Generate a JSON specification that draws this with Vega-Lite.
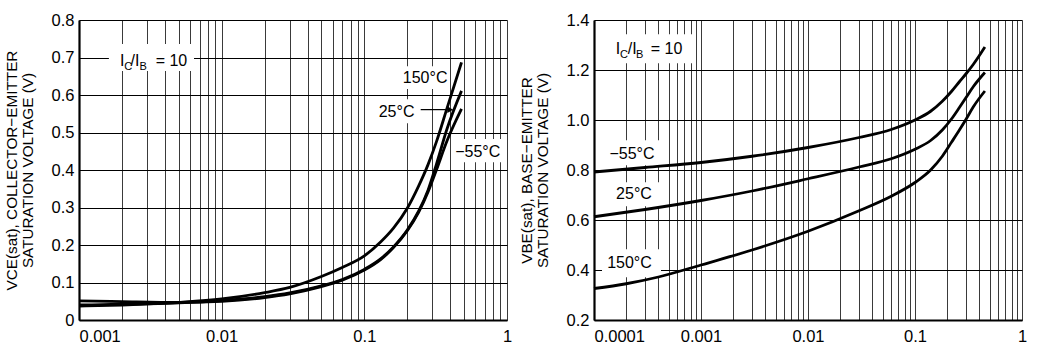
{
  "$schema": "https://vega.github.io/schema/vega-lite/v6.json",
  "padding": {"left": 4, "top": 12, "right": 0, "bottom": 0},
  "spacing": 7,
  "config": {
    "view": {"stroke": null},
    "font": "Liberation Sans",
    "axis": {
      "labelFont": "Liberation Sans",
      "titleFont": "Liberation Sans",
      "labelColor": "#000",
      "titleColor": "#000",
      "labelFontSize": 16.5,
      "titleFontSize": 15.3,
      "titleFontWeight": "normal",
      "ticks": false,
      "tickSize": 0,
      "domainColor": "#000",
      "domainWidth": 2.2,
      "gridOpacity": 1,
      "gridWidth": 1,
      "labelOverlap": false,
      "labelBound": false
    }
  },
  "datasets": {
    "curvesL": [
      {"T": "150", "I": 0.001, "V": 0.037}, {"T": "150", "I": 0.002, "V": 0.040}, {"T": "150", "I": 0.005, "V": 0.047},
      {"T": "150", "I": 0.01, "V": 0.056}, {"T": "150", "I": 0.02, "V": 0.073}, {"T": "150", "I": 0.03, "V": 0.087},
      {"T": "150", "I": 0.05, "V": 0.116}, {"T": "150", "I": 0.07, "V": 0.14}, {"T": "150", "I": 0.1, "V": 0.171},
      {"T": "150", "I": 0.13, "V": 0.208}, {"T": "150", "I": 0.16, "V": 0.245}, {"T": "150", "I": 0.2, "V": 0.298},
      {"T": "150", "I": 0.24, "V": 0.357}, {"T": "150", "I": 0.28, "V": 0.415}, {"T": "150", "I": 0.32, "V": 0.475},
      {"T": "150", "I": 0.38, "V": 0.565}, {"T": "150", "I": 0.48, "V": 0.687},
      {"T": "25", "I": 0.001, "V": 0.040}, {"T": "25", "I": 0.002, "V": 0.042}, {"T": "25", "I": 0.005, "V": 0.046},
      {"T": "25", "I": 0.01, "V": 0.052}, {"T": "25", "I": 0.02, "V": 0.062}, {"T": "25", "I": 0.03, "V": 0.072},
      {"T": "25", "I": 0.05, "V": 0.091}, {"T": "25", "I": 0.07, "V": 0.108}, {"T": "25", "I": 0.1, "V": 0.135},
      {"T": "25", "I": 0.13, "V": 0.163}, {"T": "25", "I": 0.16, "V": 0.195}, {"T": "25", "I": 0.2, "V": 0.24},
      {"T": "25", "I": 0.24, "V": 0.29}, {"T": "25", "I": 0.28, "V": 0.347}, {"T": "25", "I": 0.32, "V": 0.415},
      {"T": "25", "I": 0.38, "V": 0.51}, {"T": "25", "I": 0.48, "V": 0.611},
      {"T": "-55", "I": 0.001, "V": 0.051}, {"T": "-55", "I": 0.002, "V": 0.049}, {"T": "-55", "I": 0.005, "V": 0.047},
      {"T": "-55", "I": 0.01, "V": 0.050}, {"T": "-55", "I": 0.02, "V": 0.060}, {"T": "-55", "I": 0.03, "V": 0.070},
      {"T": "-55", "I": 0.05, "V": 0.089}, {"T": "-55", "I": 0.07, "V": 0.106}, {"T": "-55", "I": 0.1, "V": 0.133},
      {"T": "-55", "I": 0.13, "V": 0.161}, {"T": "-55", "I": 0.16, "V": 0.193}, {"T": "-55", "I": 0.2, "V": 0.238},
      {"T": "-55", "I": 0.24, "V": 0.287}, {"T": "-55", "I": 0.28, "V": 0.342}, {"T": "-55", "I": 0.32, "V": 0.40},
      {"T": "-55", "I": 0.38, "V": 0.478}, {"T": "-55", "I": 0.48, "V": 0.563}
    ],
    "curvesR": [
      {"T": "-55", "I": 0.0001, "V": 0.792}, {"T": "-55", "I": 0.0003, "V": 0.810}, {"T": "-55", "I": 0.001, "V": 0.830},
      {"T": "-55", "I": 0.003, "V": 0.855}, {"T": "-55", "I": 0.01, "V": 0.890}, {"T": "-55", "I": 0.03, "V": 0.930},
      {"T": "-55", "I": 0.06, "V": 0.962}, {"T": "-55", "I": 0.1, "V": 1.0}, {"T": "-55", "I": 0.14, "V": 1.035},
      {"T": "-55", "I": 0.18, "V": 1.075}, {"T": "-55", "I": 0.22, "V": 1.115}, {"T": "-55", "I": 0.26, "V": 1.153},
      {"T": "-55", "I": 0.3, "V": 1.185}, {"T": "-55", "I": 0.35, "V": 1.222}, {"T": "-55", "I": 0.45, "V": 1.292},
      {"T": "25", "I": 0.0001, "V": 0.613}, {"T": "25", "I": 0.0003, "V": 0.642}, {"T": "25", "I": 0.001, "V": 0.678},
      {"T": "25", "I": 0.003, "V": 0.716}, {"T": "25", "I": 0.01, "V": 0.765}, {"T": "25", "I": 0.03, "V": 0.812},
      {"T": "25", "I": 0.06, "V": 0.845}, {"T": "25", "I": 0.1, "V": 0.883}, {"T": "25", "I": 0.14, "V": 0.918},
      {"T": "25", "I": 0.18, "V": 0.96}, {"T": "25", "I": 0.22, "V": 1.005}, {"T": "25", "I": 0.26, "V": 1.05},
      {"T": "25", "I": 0.3, "V": 1.09}, {"T": "25", "I": 0.35, "V": 1.133}, {"T": "25", "I": 0.45, "V": 1.19},
      {"T": "150", "I": 0.0001, "V": 0.326}, {"T": "150", "I": 0.0002, "V": 0.345}, {"T": "150", "I": 0.0004, "V": 0.372},
      {"T": "150", "I": 0.001, "V": 0.42}, {"T": "150", "I": 0.003, "V": 0.48}, {"T": "150", "I": 0.01, "V": 0.555},
      {"T": "150", "I": 0.03, "V": 0.637}, {"T": "150", "I": 0.06, "V": 0.695}, {"T": "150", "I": 0.1, "V": 0.75},
      {"T": "150", "I": 0.14, "V": 0.8}, {"T": "150", "I": 0.18, "V": 0.855}, {"T": "150", "I": 0.22, "V": 0.912},
      {"T": "150", "I": 0.26, "V": 0.96}, {"T": "150", "I": 0.3, "V": 1.003}, {"T": "150", "I": 0.35, "V": 1.052},
      {"T": "150", "I": 0.45, "V": 1.116}
    ],
    "boxesL": [
      {"I": 0.00162, "I2": 0.0064, "V": 0.736, "V2": 0.664},
      {"I": 0.1748, "I2": 0.3916, "V": 0.677, "V2": 0.616},
      {"I": 0.1112, "I2": 0.2415, "V": 0.589, "V2": 0.525},
      {"I": 0.411, "I2": 0.966, "V": 0.483, "V2": 0.421}
    ],
    "boxesR": [
      {"I": 0.0001442, "I2": 0.00086, "V": 1.343, "V2": 1.227},
      {"I": 0.000124, "I2": 0.000451, "V": 0.919, "V2": 0.819},
      {"I": 0.000138, "I2": 0.000423, "V": 0.751, "V2": 0.655},
      {"I": 0.0001188, "I2": 0.000423, "V": 0.483, "V2": 0.371}
    ],
    "labelsL": [
      {"I": 0.2667, "V": 0.645, "label": "150°C"},
      {"I": 0.1683, "V": 0.556, "label": "25°C"},
      {"I": 0.6237, "V": 0.449, "label": "−55°C"}
    ],
    "labelsR": [
      {"I": 0.0002265, "V": 0.863, "label": "−55°C"},
      {"I": 0.0002365, "V": 0.703, "label": "25°C"},
      {"I": 0.0002147, "V": 0.427, "label": "150°C"}
    ],
    "mainL": [
      {"I": 0.001938, "V": 0.678, "text": "I"},
      {"I": 0.002296, "V": 0.678, "text": "/I"},
      {"I": 0.003446, "V": 0.678, "text": "= 10"}
    ],
    "subL": [
      {"I": 0.002077, "V": 0.668, "text": "C"},
      {"I": 0.002650, "V": 0.668, "text": "B"}
    ],
    "mainR": [
      {"I": 0.0001595, "V": 1.263, "text": "I"},
      {"I": 0.0002065, "V": 1.263, "text": "/I"},
      {"I": 0.0003389, "V": 1.263, "text": "= 10"}
    ],
    "subR": [
      {"I": 0.0001750, "V": 1.2496, "text": "C"},
      {"I": 0.0002470, "V": 1.2496, "text": "B"}
    ],
    "arrowL": [
      {"I": 0.2483, "I2": 0.4, "V": 0.561}
    ]
  },
  "hconcat": [
    {
      "width": 428,
      "height": 300,
      "encoding": {
        "x": {
          "field": "I", "type": "quantitative",
          "scale": {"type": "log", "domain": [0.001, 1], "nice": false},
          "axis": {
            "title": null,
            "values": [0.001, 0.002, 0.003, 0.004, 0.005, 0.006, 0.007, 0.008, 0.009,
                       0.01, 0.02, 0.03, 0.04, 0.05, 0.06, 0.07, 0.08, 0.09,
                       0.1, 0.2, 0.3, 0.4, 0.5, 0.6, 0.7, 0.8, 0.9, 1],
            "labelExpr": "datum.value == 0.001 ? '0.001' : datum.value == 0.01 ? '0.01' : datum.value == 0.1 ? '0.1' : datum.value == 1 ? '1' : ''",
            "labelAlign": {"condition": {"test": "datum.value <= 0.001", "value": "left"}, "value": "center"},
            "labelPadding": 8,
            "grid": true,
            "gridColor": "#3a3a3a"
          }
        },
        "y": {
          "field": "V", "type": "quantitative",
          "scale": {"domain": [0, 0.8], "nice": false, "zero": false},
          "axis": {
            "title": ["VCE(sat), COLLECTOR−EMITTER", "SATURATION VOLTAGE (V)"],
            "titleLineHeight": 16,
            "titlePadding": 16,
            "values": [0, 0.1, 0.2, 0.3, 0.4, 0.5, 0.6, 0.7, 0.8],
            "format": "~g",
            "labelPadding": 5,
            "grid": true,
            "gridColor": "#000"
          }
        }
      },
      "layer": [
        {
          "data": {"name": "boxesL"},
          "mark": {"type": "rect", "fill": "white", "stroke": null},
          "encoding": {"x2": {"field": "I2"}, "y2": {"field": "V2"}}
        },
        {
          "data": {"name": "curvesL"},
          "mark": {"type": "line", "color": "black", "strokeWidth": 2.8, "interpolate": "monotone"},
          "encoding": {"detail": {"field": "T", "type": "nominal"}}
        },
        {
          "data": {"name": "arrowL"},
          "mark": {"type": "rule", "color": "black", "strokeWidth": 1.2},
          "encoding": {"x2": {"field": "I2"}}
        },
        {
          "data": {"name": "arrowL"},
          "mark": {"type": "point", "shape": "triangle-right", "filled": true, "color": "black", "size": 45, "opacity": 1},
          "encoding": {"x": {"field": "I2", "type": "quantitative"}}
        },
        {
          "data": {"name": "labelsL"},
          "mark": {"type": "text", "align": "center", "baseline": "middle", "fontSize": 16, "color": "black"},
          "encoding": {"text": {"field": "label"}}
        },
        {
          "data": {"name": "mainL"},
          "mark": {"type": "text", "align": "left", "baseline": "alphabetic", "fontSize": 16, "color": "black"},
          "encoding": {"text": {"field": "text"}}
        },
        {
          "data": {"name": "subL"},
          "mark": {"type": "text", "align": "left", "baseline": "alphabetic", "fontSize": 11, "color": "black"},
          "encoding": {"text": {"field": "text"}}
        }
      ]
    },
    {
      "width": 428,
      "height": 300,
      "encoding": {
        "x": {
          "field": "I", "type": "quantitative",
          "scale": {"type": "log", "domain": [0.0001, 1], "nice": false},
          "axis": {
            "title": null,
            "values": [0.0001, 0.0002, 0.0003, 0.0004, 0.0005, 0.0006, 0.0007, 0.0008, 0.0009,
                       0.001, 0.002, 0.003, 0.004, 0.005, 0.006, 0.007, 0.008, 0.009,
                       0.01, 0.02, 0.03, 0.04, 0.05, 0.06, 0.07, 0.08, 0.09,
                       0.1, 0.2, 0.3, 0.4, 0.5, 0.6, 0.7, 0.8, 0.9, 1],
            "labelExpr": "datum.value == 0.0001 ? '0.0001' : datum.value == 0.001 ? '0.001' : datum.value == 0.01 ? '0.01' : datum.value == 0.1 ? '0.1' : datum.value == 1 ? '1' : ''",
            "labelAlign": {"condition": {"test": "datum.value <= 0.0001", "value": "left"}, "value": "center"},
            "labelPadding": 8,
            "grid": true,
            "gridColor": "#3a3a3a"
          }
        },
        "y": {
          "field": "V", "type": "quantitative",
          "scale": {"domain": [0.2, 1.4], "nice": false, "zero": false},
          "axis": {
            "title": ["VBE(sat), BASE−EMITTER", "SATURATION VOLTAGE (V)"],
            "titleLineHeight": 16,
            "titlePadding": 16,
            "values": [0.2, 0.4, 0.6, 0.8, 1.0, 1.2, 1.4],
            "format": ".1f",
            "labelPadding": 5,
            "grid": true,
            "gridColor": "#000"
          }
        }
      },
      "layer": [
        {
          "data": {"name": "boxesR"},
          "mark": {"type": "rect", "fill": "white", "stroke": null},
          "encoding": {"x2": {"field": "I2"}, "y2": {"field": "V2"}}
        },
        {
          "data": {"name": "curvesR"},
          "mark": {"type": "line", "color": "black", "strokeWidth": 2.8, "interpolate": "monotone"},
          "encoding": {"detail": {"field": "T", "type": "nominal"}}
        },
        {
          "data": {"name": "labelsR"},
          "mark": {"type": "text", "align": "center", "baseline": "middle", "fontSize": 16, "color": "black"},
          "encoding": {"text": {"field": "label"}}
        },
        {
          "data": {"name": "mainR"},
          "mark": {"type": "text", "align": "left", "baseline": "alphabetic", "fontSize": 16, "color": "black"},
          "encoding": {"text": {"field": "text"}}
        },
        {
          "data": {"name": "subR"},
          "mark": {"type": "text", "align": "left", "baseline": "alphabetic", "fontSize": 11, "color": "black"},
          "encoding": {"text": {"field": "text"}}
        }
      ]
    }
  ]
}
